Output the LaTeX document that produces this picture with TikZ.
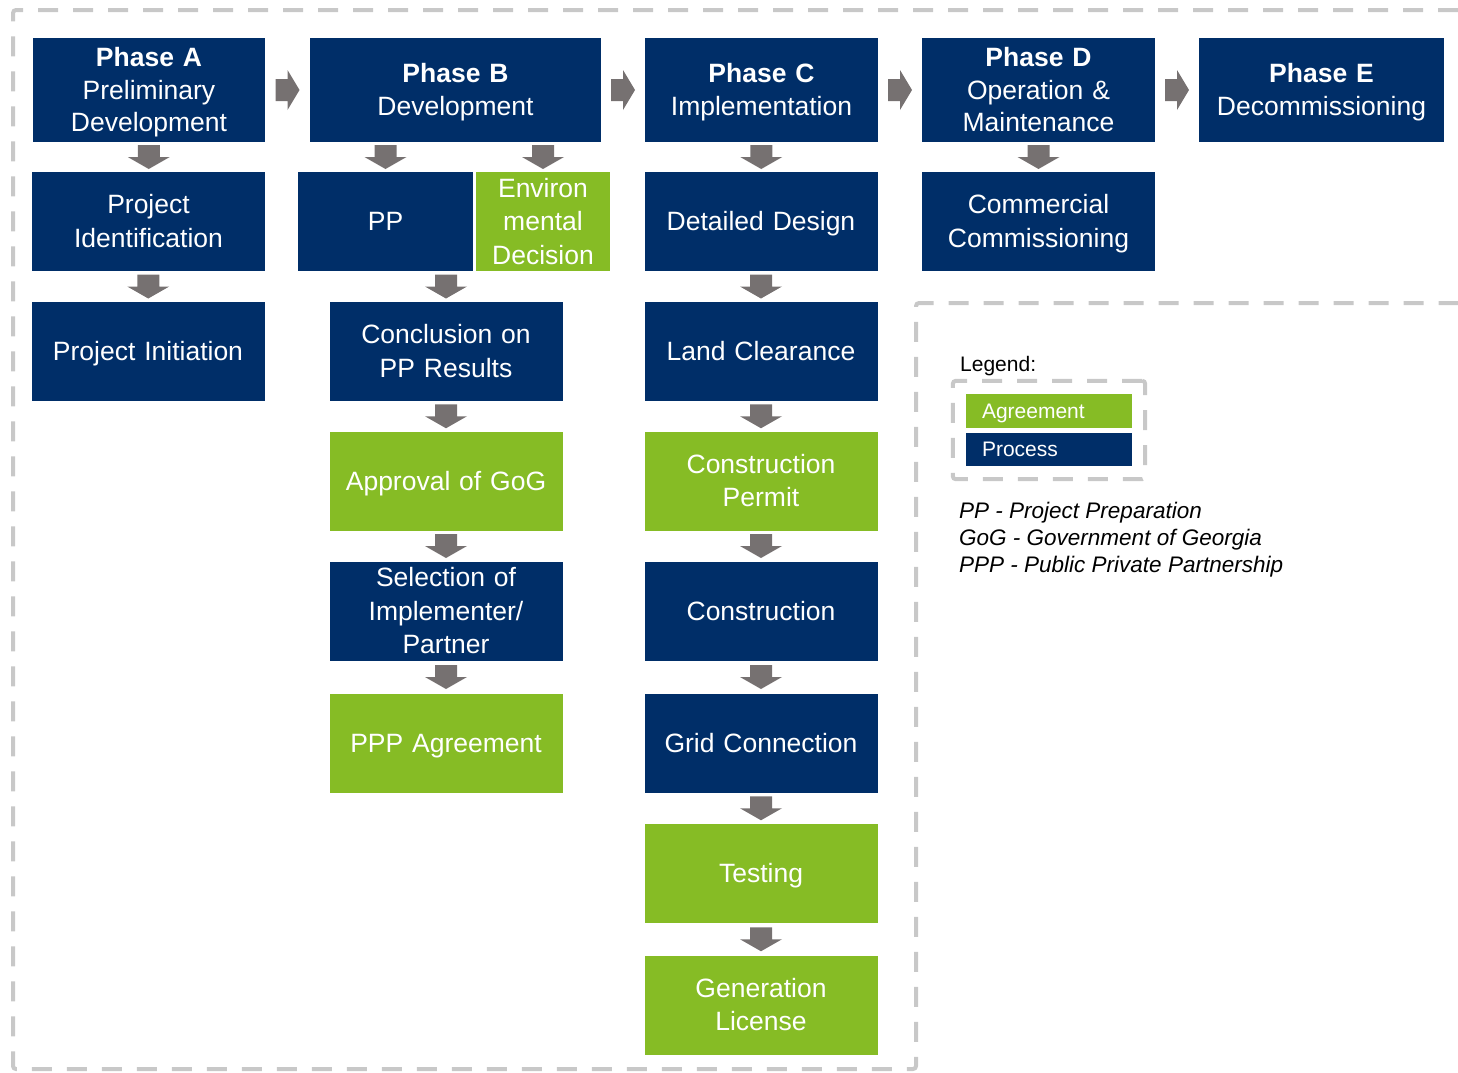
\documentclass[tikz,border=0pt]{standalone}
\usepackage{fontspec}
\setmainfont{Liberation Sans}
\usetikzlibrary{calc}
\usetikzlibrary{fit}
\definecolor{process colour}{RGB}{0,46,104}
\definecolor{agreement colour}{RGB}{134,188,37}
\definecolor{arrow colour}{RGB}{118,113,113}
\definecolor{frame colour}{RGB}{200,200,200}
\newcommand{\diagramfont}{\fontsize{26.5pt}{33.5pt}\selectfont}
\newcommand{\phasefont}{\fontsize{26.5pt}{32.5pt}\selectfont}
\newcommand{\keyfont}{\fontsize{21pt}{25pt}\selectfont}
\newcommand{\notefont}{\fontsize{22.5pt}{27pt}\selectfont\itshape}
% Full ascent and descent, so that box text sits as in the slides
\newcommand{\topstrut}{\rule{0pt}{24pt}}
\newcommand{\botstrut}{\rule[-5.6pt]{0pt}{0pt}}
\tikzset{
    % Block arrows sitting in the gaps between boxes
    down block/.pic={
        \fill [arrow colour] (-11,-12) -- (11,-12) -- (11,0) -- (21,0)
            -- (0,12) -- (-21,0) -- (-11,0) -- cycle;},
    right block/.pic={
        \fill [arrow colour] (-12,-11) -- (0,-11) -- (0,-20) -- (12,0)
            -- (0,20) -- (0,11) -- (-12,11) -- cycle;},
%
    % We almost always want centre aligned node text
    every node/.style={align=center},
%
    box/.style={
        rectangle, fill=process colour, text=white, inner sep=0,
        text width=233pt, minimum height=99pt, font=\diagramfont,
        execute at begin node=\topstrut, execute at end node=\botstrut},
    agreement/.style={box, fill=agreement colour},
    phase/.style={box, minimum height=104pt, font=\phasefont},
%
    frame/.style={
        draw=frame colour, line width=4pt, rounded corners=3pt,
        dash pattern=on 20pt off 15pt},
    key/.style={
        rectangle, text=white, inner xsep=16pt, inner ysep=0,
        text width=134pt, align=left, minimum height=34pt, font=\keyfont,
        text height=19pt, text depth=4.5pt},
}

\begin{document}
\begin{tikzpicture}[x=1pt, y=-1pt]
    \useasboundingbox (0,0) rectangle (1458,1072);

    \draw [frame] (1458,10) -- (13,10) -- (13,1069) -- (916,1069)
        -- (916,303) -- (1458,303);

    % Phases
    \path
        (149,90) node [phase, text width=232pt] (phase A)
            {\textbf{Phase A}\\Preliminary\\Development}
        (455.5,90) node [phase, text width=291pt] (phase B)
            {\textbf{Phase B}\\Development}
        (761.5,90) node [phase] (phase C)
            {\textbf{Phase C}\\Implementation}
        (1038.5,90) node [phase] (phase D)
            {\textbf{Phase D}\\Operation \&\\Maintenance}
        (1321.5,90) node [phase, text width=245pt] (phase E)
            {\textbf{Phase E}\\Decommissioning};

    % Steps
    \path
        (148.5,221.5) node [box] (project id) {Project\\Identification}
        (148,351.5) node [box] (project init) {Project Initiation}
        (385.5,221.5) node [box, text width=175pt] (PP) {PP}
        (543,221.5) node [agreement, text width=134pt] (env decision)
            {Environ\\mental\\Decision}
        (446,351.5) node [box] (conclusion) {Conclusion on\\PP Results}
        (446,481) node [agreement] (approval) {Approval of GoG}
        (446,611) node [box] (selection) {Selection of\\Implementer/\\Partner}
        (446,743) node [agreement] (PPP agreement) {PPP Agreement}
        (761,221.5) node [box] (design) {Detailed Design}
        (761,351.5) node [box] (land) {Land Clearance}
        (761,481) node [agreement] (permit) {Construction\\Permit}
        (761,611) node [box] (construction) {Construction}
        (761,743) node [box] (grid) {Grid Connection}
        (761,873.5) node [agreement] (testing) {Testing}
        (761,1005) node [agreement] (licence) {Generation\\License}
        (1038.5,221.5) node [box] (commissioning) {Commercial\\Commissioning};

    \pic at ($(phase A.east)!.5!(phase B.west)$) {right block};
    \pic at ($(phase B.east)!.5!(phase C.west)$) {right block};
    \pic at ($(phase C.east)!.5!(phase D.west)$) {right block};
    \pic at ($(phase D.east)!.5!(phase E.west)$) {right block};

    \pic at ($(phase A.south)!.5!(project id.north)$) {down block};
    \pic at ($(project id.south)!.5!(project init.north)$) {down block};
    \pic at ($(PP.north)!.5!(PP.north |- phase B.south)$) {down block};
    \pic at ($(env decision.north)!.5!(env decision.north |- phase B.south)$) {down block};
    \pic at ($(conclusion.north)!.5!(conclusion.north |- PP.south)$) {down block};
    \pic at ($(conclusion.south)!.5!(approval.north)$) {down block};
    \pic at ($(approval.south)!.5!(selection.north)$) {down block};
    \pic at ($(selection.south)!.5!(PPP agreement.north)$) {down block};
    \pic at ($(phase C.south)!.5!(design.north)$) {down block};
    \pic at ($(design.south)!.5!(land.north)$) {down block};
    \pic at ($(land.south)!.5!(permit.north)$) {down block};
    \pic at ($(permit.south)!.5!(construction.north)$) {down block};
    \pic at ($(construction.south)!.5!(grid.north)$) {down block};
    \pic at ($(grid.south)!.5!(testing.north)$) {down block};
    \pic at ($(testing.south)!.5!(licence.north)$) {down block};
    \pic at ($(phase D.south)!.5!(commissioning.north)$) {down block};

    % Legend
    \node [anchor=base west, font=\keyfont, inner sep=0] (legend title)
        at (960,371) {Legend:};
    \node [key, fill=agreement colour] (agreement key) at (1049,411) {Agreement};
    \node [key, fill=process colour, minimum height=33pt] (process key)
        at (1049,449.5) {Process};
    \node [frame, fit=(agreement key) (process key), inner sep=13pt] (key frame) {};

    \node [anchor=base west, font=\notefont, inner sep=0] (PP note) at (959,518)
        {PP - Project Preparation};
    \node [anchor=base west, font=\notefont, inner sep=0] (GoG note) at (959,545)
        {GoG - Government of Georgia};
    \node [anchor=base west, font=\notefont, inner sep=0] (PPP note) at (959,572)
        {PPP - Public Private Partnership};
\end{tikzpicture}
\end{document}
